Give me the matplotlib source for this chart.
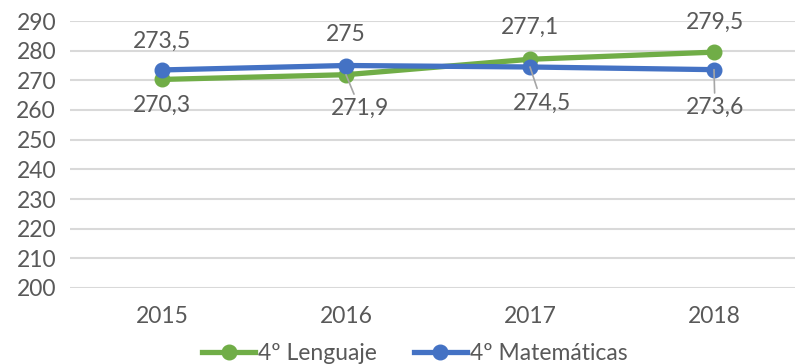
import matplotlib
matplotlib.use("Agg")
import matplotlib.pyplot as plt
from matplotlib.lines import Line2D

plt.rcParams['font.family'] = ['Lato', 'DejaVu Sans']

years = ["2015", "2016", "2017", "2018"]
lenguaje = [270.3, 271.9, 277.1, 279.5]
matematicas = [273.5, 275.0, 274.5, 273.6]
y_ticks = [200, 210, 220, 230, 240, 250, 260, 270, 280, 290]

GREEN = "#70AD47"
BLUE = "#4472C4"
TEXT = "#595959"
GRID = "#D9D9D9"
LEADER = "#A6A6A6"
FS = 16.5

fig = plt.figure(figsize=(7.95, 3.64), dpi=100)
ax = fig.add_axes([70 / 795, (364 - 288) / 364, 736 / 795, (288 - 21) / 364])

x = list(range(len(years)))
ax.plot(x, lenguaje, color=GREEN, lw=3.8, marker="o", ms=10.5, zorder=3,
        solid_capstyle="round")
ax.plot(x, matematicas, color=BLUE, lw=3.8, marker="o", ms=10.5, zorder=4,
        solid_capstyle="round")

ax.set_xlim(-0.5, 3.5)
ax.set_ylim(200, 290)
ax.set_yticks(y_ticks)
ax.set_xticks(x)
ax.set_xticklabels(years)
ax.grid(axis="y", color=GRID, lw=1.5)
ax.set_axisbelow(True)
for s in ax.spines.values():
    s.set_visible(False)
ax.tick_params(length=0, labelsize=FS, colors=TEXT)
ax.tick_params(axis="y", pad=10)
ax.tick_params(axis="x", pad=13)


def fmt(v):
    s = f"{v:.1f}".replace(".", ",")
    return s[:-2] if s.endswith(",0") else s


# (dx, dy) offsets in pixels and whether a leader line is drawn
len_offsets = [(0, -26, False), (14, -34, True), (0, 32, False), (1, 30, False)]
mat_offsets = [(0, 29, False), (0, 31, False), (12, -36, True), (1, -38, True)]

for series, offsets in ((lenguaje, len_offsets), (matematicas, mat_offsets)):
    for i, (v, (dx, dy, lead)) in enumerate(zip(series, offsets)):
        kw = {}
        if lead:
            kw["arrowprops"] = dict(arrowstyle="-", color=LEADER, lw=1.2,
                                    shrinkA=1, shrinkB=0)
        ax.annotate(fmt(v), xy=(i, v), xytext=(dx, dy),
                    textcoords="offset pixels", ha="center", va="center",
                    fontsize=FS, color=TEXT, zorder=5, **kw)

handles = [
    Line2D([], [], color=GREEN, lw=3.8, marker="o", ms=10.5),
    Line2D([], [], color=BLUE, lw=3.8, marker="o", ms=10.5),
]
fig.legend(handles, ["4º Lenguaje", "4º Matemáticas"], loc="center",
           bbox_to_anchor=(415 / 795, (364 - 354) / 364), ncol=2,
           frameon=False, fontsize=FS, labelcolor=TEXT, handlelength=2.3,
           handletextpad=0.15, columnspacing=1.6, borderpad=0)

fig.savefig("out.png", dpi=100)
